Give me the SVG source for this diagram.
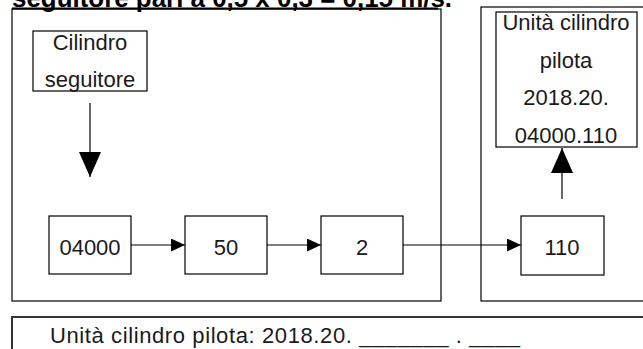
<svg xmlns="http://www.w3.org/2000/svg" width="643" height="349" viewBox="0 0 643 349">
<style>
.frame{fill:none;stroke:#000;stroke-width:1.2}
.box{fill:#fff;stroke:#000;stroke-width:1.2}
.t{font-family:"Liberation Sans",Arial,sans-serif;font-size:22px;fill:#1a1a1a;text-anchor:middle}
.conn{fill:none;stroke:#000;stroke-width:1.2}
</style>
<defs>
<marker id="ah" markerUnits="userSpaceOnUse" viewBox="0 0 14 13" refX="14" refY="6.5" markerWidth="14" markerHeight="13" orient="auto"><path d="M0,0 L14,6.5 L0,13 z" fill="#000"/></marker>
<marker id="ahb" markerUnits="userSpaceOnUse" viewBox="0 0 25 22" refX="25" refY="11" markerWidth="25" markerHeight="22" orient="auto"><path d="M0,0 L25,11 L0,22 z" fill="#000"/></marker>
</defs>
<rect width="643" height="349" fill="#fff"/>
<g id="title">
<text x="12" y="6.5" font-family="Liberation Sans,Arial,sans-serif" font-size="25" font-weight="bold" fill="#000" textLength="440" lengthAdjust="spacingAndGlyphs">seguitore pari a 0,5 x 0,3 = 0,15 m/s.</text>
<line x1="12" y1="8.5" x2="438" y2="8.5" stroke="#000" stroke-width="2"/>
</g>
<g id="frame-left"><rect class="frame" x="12" y="9" width="429" height="292"/></g>
<g id="frame-right"><rect class="frame" x="481" y="7" width="180" height="294"/></g>
<g id="frame-bottom"><rect x="12" y="317" width="650" height="50" fill="none" stroke="#333" stroke-width="2"/>
<text class="t" x="50" y="343" style="text-anchor:start" textLength="470">Unità cilindro pilota: 2018.20. _______ . ____</text></g>
<g id="node-cilindro-seguitore"><rect class="box" x="33" y="31" width="114" height="60"/>
<text class="t" x="90" y="50">Cilindro</text><text class="t" x="90" y="87">seguitore</text></g>
<g id="node-04000"><rect class="box" x="49" y="216" width="82" height="58"/><text class="t" x="90" y="255">04000</text></g>
<g id="node-50"><rect class="box" x="185" y="216" width="82" height="58"/><text class="t" x="226" y="255">50</text></g>
<g id="node-2"><rect class="box" x="321" y="216" width="82" height="58"/><text class="t" x="362" y="255">2</text></g>
<g id="node-110"><rect class="box" x="521" y="216" width="83" height="59"/><text class="t" x="562" y="255">110</text></g>
<g id="node-unita"><rect class="box" x="496" y="12" width="141" height="135"/>
<text class="t" x="566" y="30">Unità cilindro</text>
<text class="t" x="566" y="68">pilota</text>
<text class="t" x="566" y="105">2018.20.</text>
<text class="t" x="566" y="143">04000.110</text></g>
<g id="connectors">
<path class="conn" d="M90,103 V177" marker-end="url(#ahb)"/>
<path class="conn" d="M131,245 H185" marker-end="url(#ah)"/>
<path class="conn" d="M267,245 H321" marker-end="url(#ah)"/>
<path class="conn" d="M403,245 H521" marker-end="url(#ah)"/>
<path class="conn" d="M562,199 V148" marker-end="url(#ahb)"/>
</g>
</svg>
